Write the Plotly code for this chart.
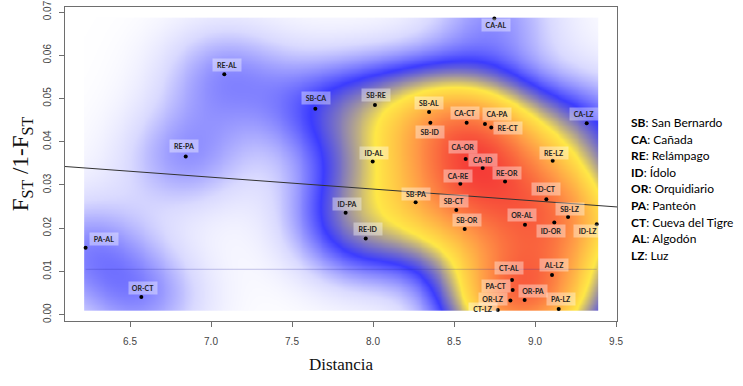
import numpy as np
import plotly.graph_objects as go

# ---------------- data ----------------
pairs = ["SB-CA", "SB-RE", "SB-ID", "SB-OR", "SB-PA", "SB-CT", "SB-AL", "SB-LZ",
         "CA-RE", "CA-ID", "CA-OR", "CA-PA", "CA-CT", "CA-AL", "CA-LZ",
         "RE-ID", "RE-OR", "RE-PA", "RE-CT", "RE-AL", "RE-LZ",
         "ID-OR", "ID-PA", "ID-CT", "ID-AL", "ID-LZ",
         "OR-PA", "OR-CT", "OR-AL", "OR-LZ",
         "PA-CT", "PA-AL", "PA-LZ",
         "CT-AL", "CT-LZ", "AL-LZ"]
distancia = [7.644, 8.012, 8.354, 8.566, 8.263, 8.514, 8.346, 9.204,
             8.539, 8.677, 8.572, 8.691, 8.578, 8.749, 9.319,
             7.955, 8.815, 6.844, 8.730, 7.082, 9.109,
             9.119, 7.831, 9.070, 7.998, 9.381,
             8.936, 6.570, 8.938, 8.848,
             8.862, 6.226, 9.146,
             8.858, 8.770, 9.105]
fst = [0.0476, 0.0485, 0.0444, 0.0198, 0.0260, 0.0242, 0.0469, 0.0226,
       0.0303, 0.0339, 0.0360, 0.0441, 0.0444, 0.0685, 0.0443,
       0.0176, 0.0308, 0.0366, 0.0433, 0.0556, 0.0356,
       0.0213, 0.0236, 0.0267, 0.0354, 0.0209,
       0.0034, 0.0041, 0.0208, 0.0033,
       0.0057, 0.0155, 0.0013,
       0.0080, 0.0011, 0.0092]

pop_codes = ["SB", "CA", "RE", "ID", "OR", "PA", "CT", "AL", "LZ"]
pop_names = ["San Bernardo", "Cañada", "Relámpago", "Ídolo", "Orquidiario",
             "Panteón", "Cueva del Tigre", "Algodón", "Luz"]

x_ticks = [6.5, 7.0, 7.5, 8.0, 8.5, 9.0, 9.5]
y_ticks = [0.00, 0.01, 0.02, 0.03, 0.04, 0.05, 0.06, 0.07]
faint_line_y = 0.0105

# ---------------- styling (label offsets in px: dx right, dy down) ----------------
label_offsets = {
    "RE-AL": (3, -9), "RE-PA": (-2, -10), "PA-AL": (18, -9), "OR-CT": (2, -9),
    "SB-CA": (1, -11), "SB-RE": (1, -10), "SB-AL": (0, -9), "SB-ID": (0, 9),
    "CA-AL": (2, 6), "CA-CT": (-2, -10), "CA-PA": (12, -10), "RE-CT": (17, 1),
    "CA-LZ": (-3, -9), "CA-OR": (-3, -12), "CA-ID": (0, -8), "RE-OR": (2, -9),
    "CA-RE": (-2, -8), "RE-LZ": (1, -8), "ID-CT": (0, -10), "SB-PA": (0, -8),
    "SB-CT": (-2, -9), "SB-LZ": (2, -8), "ID-OR": (-3, 8), "OR-AL": (-3, -10),
    "SB-OR": (2, -9), "ID-LZ": (-9, 7), "AL-LZ": (2, -10), "CT-AL": (-3, -12),
    "PA-CT": (-17, -4), "OR-PA": (8, -9), "OR-LZ": (-17, -1), "CT-LZ": (-15, -1),
    "PA-LZ": (2, -10), "ID-AL": (1, -9), "ID-PA": (1, -9), "RE-ID": (2, -10),
}

x = np.array(distancia)
y = np.array(fst)

# ---------------- 2D kernel density (kde2d style) ----------------
def bw_nrd(v):
    q1, q3 = np.percentile(v, [25, 75])
    h = (q3 - q1) / 1.34
    return 4 * 1.06 * min(np.std(v, ddof=1), h) * len(v) ** (-0.2)

hx, hy = bw_nrd(x) / 4, bw_nrd(y) / 4
gx = np.linspace(x.min(), x.max(), 180)
gy = np.linspace(y.min(), y.max(), 180)
GX, GY = np.meshgrid(gx, gy)
Z = np.zeros_like(GX)
for xi, yi in zip(x, y):
    Z += np.exp(-0.5 * ((GX - xi) / hx) ** 2 - 0.5 * ((GY - yi) / hy) ** 2)

colorscale = [
    [0.0, "rgb(255,255,255)"],
    [0.07, "rgb(218,218,255)"],
    [0.23, "rgb(60,60,255)"],
    [0.46, "rgb(255,232,70)"],
    [0.72, "rgb(255,150,70)"],
    [1.0, "rgb(245,60,55)"],
]

fig = go.Figure()
fig.add_trace(go.Heatmap(x=gx, y=gy, z=Z, colorscale=colorscale, zmin=0, zmax=Z.max(),
                         zsmooth="best", showscale=False, hoverinfo="skip"))

# regression line
slope, intercept = np.polyfit(x, y, 1)
xr = [6.0988, 9.506]
yr = [-0.00146, 0.07116]
fig.add_trace(go.Scatter(x=xr, y=[intercept + slope * v for v in xr], mode="lines",
                         line=dict(color="#333333", width=1), hoverinfo="skip", showlegend=False))

# faint horizontal line
fig.add_trace(go.Scatter(x=[x.min(), x.max()], y=[faint_line_y, faint_line_y], mode="lines",
                         line=dict(color="rgba(40,40,160,0.25)", width=1),
                         hoverinfo="skip", showlegend=False))

# points
fig.add_trace(go.Scatter(x=x, y=y, mode="markers", marker=dict(color="black", size=4),
                         text=pairs, hoverinfo="text", showlegend=False))

annotations = []
for p, xi, yi in zip(pairs, x, y):
    dx, dy = label_offsets.get(p, (0, -9))
    annotations.append(dict(
        x=xi, y=yi, xref="x", yref="y", text="<b>%s</b>" % p, showarrow=False,
        xshift=dx, yshift=-dy, width=28, height=12,
        bgcolor="rgba(255,255,255,0.38)", borderpad=0,
        font=dict(family="Lato, Open Sans, sans-serif", size=7, color="#222222"),
    ))

# legend text on right
for i, (c, n) in enumerate(zip(pop_codes, pop_names)):
    py = 122.7 + i * 16.55
    annotations.append(dict(
        x=(629 - 65) / 552.0, y=(321 - py) / 314.0, xref="paper", yref="paper",
        xanchor="left", yanchor="middle", showarrow=False,
        text="<b>%s</b>: %s" % (c, n),
        font=dict(family="Lato, Open Sans, sans-serif", size=12, color="black"),
    ))

fig.update_layout(
    width=743, height=386,
    margin=dict(l=65, r=126, t=7, b=65),
    paper_bgcolor="white", plot_bgcolor="white",
    showlegend=False,
    annotations=annotations,
    xaxis=dict(range=xr, tickvals=x_ticks, ticktext=["%.1f" % v for v in x_ticks],
               showgrid=False, zeroline=False, showline=True, linecolor="#6e6e6e",
               mirror=True, ticks="outside", ticklen=5, tickcolor="#6e6e6e",
               automargin=False,
               tickfont=dict(family="Liberation Sans, Arial, sans-serif", size=10, color="#444444"),
               ticklabelstandoff=6,
               title=dict(text="Distancia", standoff=12,
                          font=dict(family="Liberation Serif, Times New Roman, serif", size=17, color="#111111"))),
    yaxis=dict(range=yr, tickvals=y_ticks, ticktext=["%.2f" % v for v in y_ticks],
               showgrid=False, zeroline=False, showline=True, linecolor="#6e6e6e",
               mirror=True, ticks="outside", ticklen=5, tickcolor="#6e6e6e", tickangle=-90,
               automargin=False,
               tickfont=dict(family="Liberation Sans, Arial, sans-serif", size=10, color="#444444"),
               ticklabelstandoff=4,
               title=dict(text="F<sub>ST</sub> /1-F<sub>ST</sub>", standoff=6,
                          font=dict(family="Liberation Serif, Times New Roman, serif", size=23, color="#111111"))),
)

fig.write_html("out.html", config={"displayModeBar": False},
               post_script="document.body.style.margin='0';document.body.style.padding='0';")
